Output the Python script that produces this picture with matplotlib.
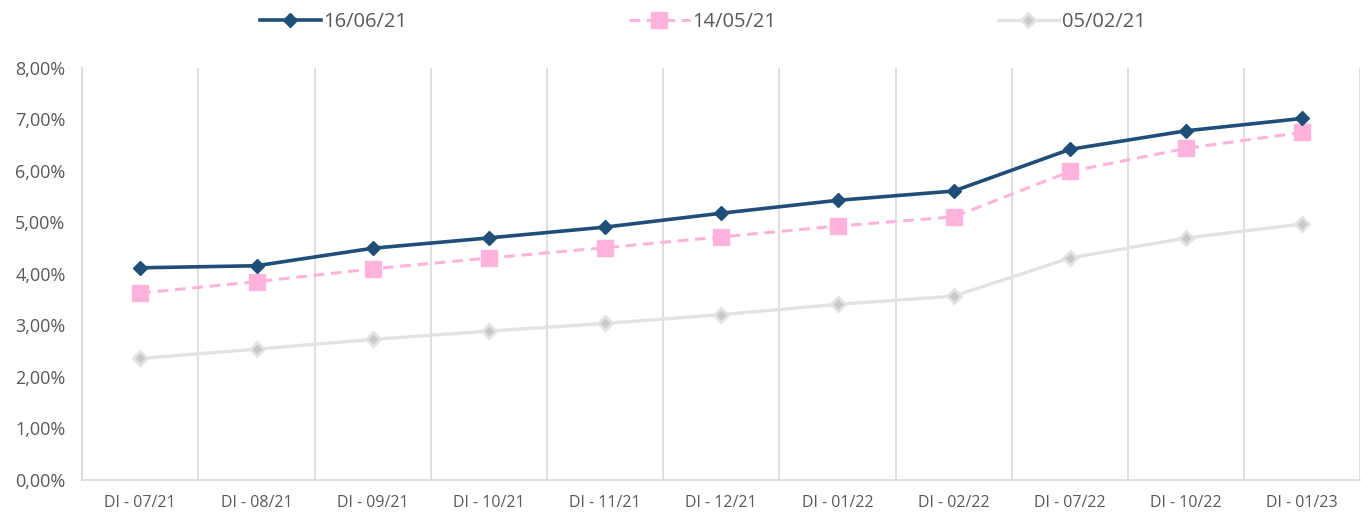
import numpy as np
import matplotlib
matplotlib.use('Agg')
import matplotlib.pyplot as plt
from matplotlib.ticker import FuncFormatter

plt.rcParams['font.family'] = ['Open Sans', 'DejaVu Sans']

labels = ['DI - 07/21', 'DI - 08/21', 'DI - 09/21', 'DI - 10/21', 'DI - 11/21',
          'DI - 12/21', 'DI - 01/22', 'DI - 02/22', 'DI - 07/22', 'DI - 10/22',
          'DI - 01/23']
serie_160621 = [4.12, 4.16, 4.50, 4.70, 4.91, 5.18, 5.43, 5.61, 6.42, 6.78, 7.02]
serie_140521 = [3.63, 3.85, 4.10, 4.31, 4.51, 4.72, 4.93, 5.11, 5.99, 6.44, 6.75]
serie_050221 = [2.36, 2.54, 2.73, 2.89, 3.04, 3.21, 3.41, 3.57, 4.31, 4.70, 4.97]

txt = '#595959'
grid = '#d9d9d9'

fig = plt.figure(figsize=(13.7, 5.15), dpi=100)
ax = fig.add_axes([0.06, 0.068, 0.933, 0.80])

x = np.arange(len(labels))
ax.plot(x, serie_160621, color='#1f4e79', lw=2.6, marker='D', ms=7,
        label='16/06/21', zorder=5)
ax.plot(x, serie_140521, color='#ffb3dc', lw=2.2, ls=(0, (3.5, 2.2)), marker='s',
        ms=11, mec='#ffb3dc', mfc='#ffb3dc', label='14/05/21', zorder=4)
ax.plot(x, serie_050221, color='#e3e3e3', lw=2.4, marker='D', ms=7,
        mfc='#c9c9c9', mec='#e3e3e3', mew=2, label='05/02/21', zorder=3)

ax.set_xlim(-0.5, len(labels) - 0.5)
ax.set_ylim(0, 8)
ax.set_xticks(x)
ax.set_xticklabels(labels, fontsize=11.5, color=txt)
ax.set_xticks(np.arange(-0.5, len(labels), 1), minor=True)
ax.grid(True, which='minor', axis='x', color=grid, lw=1.2)
ax.tick_params(axis='both', which='both', length=0)
ax.tick_params(axis='x', pad=11)
ax.tick_params(axis='y', labelsize=13, labelcolor=txt, pad=12)
ax.set_yticks(np.arange(0, 9, 1))
ax.yaxis.set_major_formatter(FuncFormatter(lambda v, p: f'{v:.2f}%'.replace('.', ',')))
for s in ['top', 'right']:
    ax.spines[s].set_visible(False)
for s in ['bottom', 'left']:
    ax.spines[s].set_color(grid)
    ax.spines[s].set_linewidth(1.2)

leg = fig.legend(loc='upper center', bbox_to_anchor=(0.513, 1.012), ncol=3,
                 frameon=False, fontsize=14.5, handlelength=3.0,
                 columnspacing=11.0, handletextpad=0.15)
for t in leg.get_texts():
    t.set_color(txt)

fig.savefig('out.png', dpi=100)
